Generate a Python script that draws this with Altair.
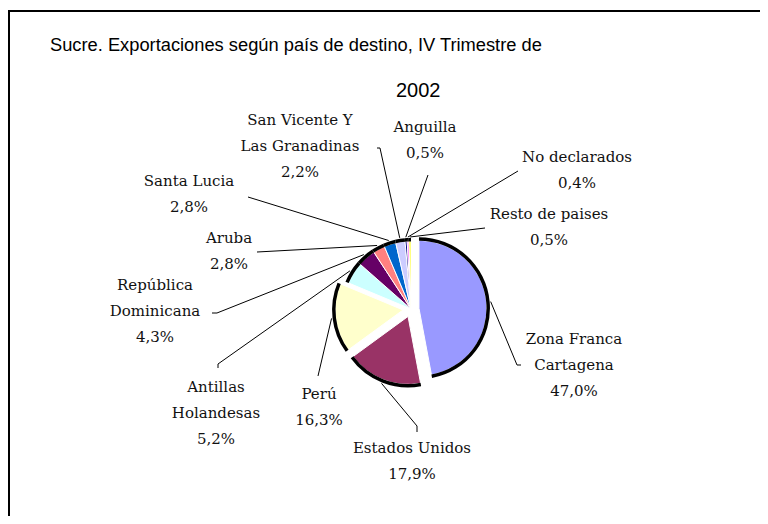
import altair as alt
import pandas as pd

# ---------------- data ----------------
categories = ["Zona Franca Cartagena", "Estados Unidos", "Perú", "Antillas Holandesas",
              "República Dominicana", "Aruba", "Santa Lucia", "San Vicente Y Las Granadinas",
              "Anguilla", "No declarados", "Resto de paises"]
shares = [47.0, 17.9, 16.3, 5.2, 4.3, 2.8, 2.8, 2.2, 0.5, 0.4, 0.5]
title_lines = ["Sucre. Exportaciones según país de destino, IV Trimestre de", "2002"]

# ---------------- style / layout ----------------
colors = ["#9999FF", "#993366", "#FFFFCC", "#CCFFFF", "#660066", "#FF8080",
          "#0066CC", "#CCCCFF", "#000080", "#FF00FF", "#FFFF00"]
exploded = {"Zona Franca Cartagena", "Estados Unidos", "Perú"}
label_wrap = {
    "Zona Franca Cartagena": ["Zona Franca", "Cartagena"],
    "Antillas Holandesas": ["Antillas", "Holandesas"],
    "República Dominicana": ["República", "Dominicana"],
    "San Vicente Y Las Granadinas": ["San Vicente Y", "Las Granadinas"],
}
# text centre x, first line y, leader elbow (x, y), leader end (x, y)
label_layout = {
    "Zona Franca Cartagena": (566, 331, 509, 357, 513, 357),
    "Estados Unidos": (404, 440, 409, 418, 409, 424),
    "Perú": (311, 386, 310, 368, 310, 368),
    "Antillas Holandesas": (208, 379, 210, 356, 210, 360),
    "República Dominicana": (147, 277, 209, 305, 204, 305),
    "Aruba": (221, 230, 249, 244, 249, 244),
    "Santa Lucia": (181, 173, 240, 189, 240, 189),
    "San Vicente Y Las Granadinas": (292, 112, 372, 140, 369, 140),
    "Anguilla": (417, 119, 420, 167, 420, 167),
    "No declarados": (569, 149, 510, 163, 510, 163),
    "Resto de paises": (541, 206, 477, 220, 477, 220),
}
W, H = 752, 508
CX, CY, D = 403, 301, 8
R_FILL, R_RING_IN, R_RING_OUT, R_LEAD = 68, 67.5, 71, 72
LINE_H = 26
LABEL_FONT = "DejaVu Serif"
LABEL_SIZE = 15
TITLE_FONT = "Liberation Sans"

df = pd.DataFrame({
    "cat": categories,
    "value": shares,
    "order": list(range(len(categories))),
    "explode": [1 if c in exploded else 0 for c in categories],
    "ex": [label_layout[c][2] for c in categories],
    "ey": [label_layout[c][3] for c in categories],
    "lx": [label_layout[c][4] for c in categories],
    "ly": [label_layout[c][5] for c in categories],
})

rows = []
for c, v in zip(categories, shares):
    tx, ty = label_layout[c][0], label_layout[c][1]
    lines = label_wrap.get(c, [c]) + [f"{v:.1f}".replace(".", ",") + "%"]
    for j, t in enumerate(lines):
        rows.append({"cat": c, "text": t, "x": tx, "y": ty + j * LINE_H})
lines_df = pd.DataFrame(rows)

base = (
    alt.Chart(df)
    .transform_joinaggregate(total="sum(value)")
    .transform_window(cum="sum(value)", sort=[alt.SortField("order")], frame=[None, 0])
    .transform_calculate(t1="datum.cum / datum.total * 2 * PI")
    .transform_calculate(t0="(datum.cum - datum.value) / datum.total * 2 * PI")
    .transform_calculate(mid="(datum.t0 + datum.t1) / 2")
    .transform_calculate(cx=f"{CX} + datum.explode * {D} * sin(datum.mid)")
    .transform_calculate(cy=f"{CY} - datum.explode * {D} * cos(datum.mid)")
    .transform_calculate(px=f"datum.cx + {R_LEAD} * sin(datum.mid)")
    .transform_calculate(py=f"datum.cy - {R_LEAD} * cos(datum.mid)")
)

pos = dict(
    theta=alt.Theta("t0:Q", scale=None),
    theta2=alt.Theta2("t1:Q"),
    x=alt.X("cx:Q", scale=None, axis=None),
    y=alt.Y("cy:Q", scale=None, axis=None),
)

slices = base.mark_arc(radius=R_FILL, stroke="white", strokeWidth=1).encode(
    color=alt.Color("cat:N", scale=alt.Scale(domain=categories, range=colors), legend=None),
    **pos,
)
ring = base.mark_arc(radius=R_RING_OUT, radius2=R_RING_IN, color="black").encode(**pos)

leaders = base.mark_rule(color="black", strokeWidth=1).encode(
    x=alt.X("px:Q", scale=None, axis=None),
    y=alt.Y("py:Q", scale=None, axis=None),
    x2="ex:Q",
    y2="ey:Q",
)
ticks = base.mark_rule(color="black", strokeWidth=1).encode(
    x=alt.X("ex:Q", scale=None, axis=None),
    y=alt.Y("ey:Q", scale=None, axis=None),
    x2="lx:Q",
    y2="ly:Q",
)

labels = alt.Chart(lines_df).mark_text(
    font=LABEL_FONT, fontSize=LABEL_SIZE, color="#111111", align="center", baseline="middle"
).encode(
    x=alt.X("x:Q", scale=None, axis=None),
    y=alt.Y("y:Q", scale=None, axis=None),
    text="text:N",
)

title_df = pd.DataFrame({"text": title_lines, "x": [42, 388], "y": [43, 89], "size": [18.3, 20]})
title = alt.Chart(title_df).mark_text(
    font=TITLE_FONT, align="left", baseline="alphabetic", color="black"
).encode(
    x=alt.X("x:Q", scale=None, axis=None),
    y=alt.Y("y:Q", scale=None, axis=None),
    text="text:N",
    size=alt.Size("size:Q", scale=None, legend=None),
)

frame_top = alt.Chart(df).mark_rule(color="black", strokeWidth=2).encode(
    x=alt.value(0), x2=alt.value(W), y=alt.value(3)
)
frame_left = alt.Chart(df).mark_rule(color="black", strokeWidth=2).encode(
    x=alt.value(1), y=alt.value(2), y2=alt.value(H)
)

chart = (
    alt.layer(frame_top, frame_left, slices, ring, leaders, ticks, labels, title)
    .properties(width=W, height=H, autosize="none", padding=0, background="white")
    .configure_view(stroke=None)
)

chart.save("out.html", embed_options={"renderer": "svg", "actions": False})
